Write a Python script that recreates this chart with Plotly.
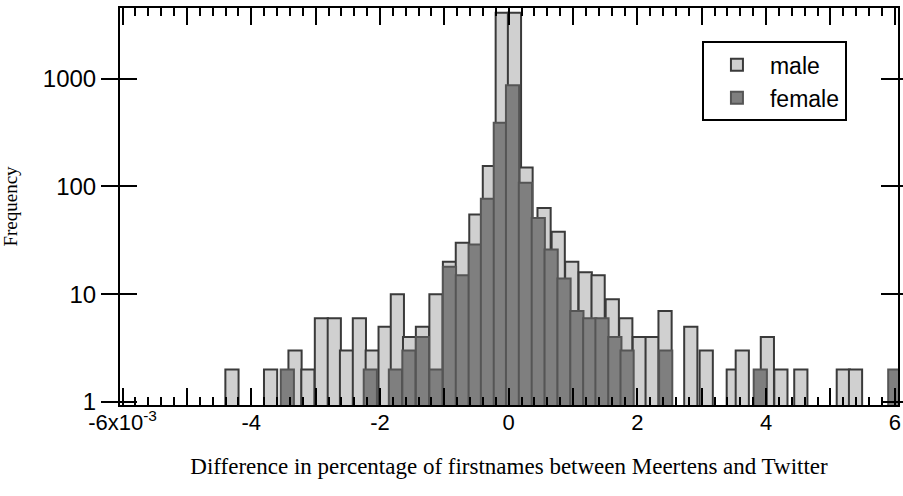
import plotly.graph_objects as go

# Bin centres (in units of 1e-3) and counts
male_x = [-4.30, -3.70, -3.32, -3.12, -2.91, -2.71, -2.52, -2.32, -2.12, -1.92,
          -1.73, -1.54, -1.34, -1.13, -0.92, -0.72, -0.51, -0.30, -0.10, 0.09,
          0.27, 0.55, 0.77, 0.98, 1.19, 1.39, 1.61, 1.82, 2.03, 2.23,
          2.43, 2.83, 3.07, 3.49, 3.63, 4.02, 4.23, 4.54, 5.20, 5.39]
male_y = [2, 2, 3, 2, 6, 6, 3, 6, 3, 5,
          10, 4, 5, 10, 20, 30, 55, 155, 4100, 4100,
          150, 63, 38, 20, 16, 15, 9, 6, 4, 4,
          7, 5, 3, 2, 3, 4, 2, 2, 2, 2]

female_x = [-3.44, -2.15, -1.76, -1.55, -1.34, -1.13, -0.92, -0.72, -0.52, -0.33,
            -0.13, 0.06, 0.26, 0.46, 0.66, 0.86, 1.06, 1.26, 1.45, 1.65,
            1.84, 2.44, 3.91, 6.00]
female_y = [2, 2, 2, 3, 4, 2, 18, 15, 29, 77,
            390, 870, 108, 51, 26, 14, 7, 6, 6, 4,
            3, 3, 2, 2]

major_ticks = [-6, -5, -4, -3, -2, -1, 0, 1, 2, 3, 4, 5, 6]
label_vals = [-6, -4, -2, 0, 2, 4, 6]
label_text = ["-6x10<sup>-3</sup>", "-4", "-2", "0", "2", "4", "6"]
y_vals = [1, 10, 100, 1000]
y_text = ["1", "10", "100", "1000"]

BIN_W = 0.205
X_RANGE = [-6.04, 6.05]

fig = go.Figure()
fig.add_trace(go.Bar(
    x=male_x, y=male_y, width=BIN_W, name="male",
    marker=dict(color="#d0d0d0", line=dict(color="#3a3a3a", width=2)),
    xaxis="x", yaxis="y",
))
fig.add_trace(go.Bar(
    x=female_x, y=female_y, width=BIN_W, name="female",
    marker=dict(color="#7f7f7f", line=dict(color="#555555", width=2)),
    xaxis="x2", yaxis="y",
))

fig.update_layout(
    width=903, height=496,
    margin=dict(l=120, r=5, t=8, b=91),
    barmode="overlay",
    plot_bgcolor="white", paper_bgcolor="white",
    font=dict(family="Liberation Sans, Arial, sans-serif", color="black", size=20),
    showlegend=True,
    legend=dict(
        x=0.748, y=0.916, xanchor="left", yanchor="top",
        bordercolor="black", borderwidth=2, bgcolor="white",
        font=dict(size=23, family="Liberation Sans, Arial, sans-serif"),
        itemwidth=56, tracegroupgap=0,
    ),
    xaxis=dict(
        range=X_RANGE, automargin=False,
        tickvals=major_ticks, showticklabels=False,
        ticks="inside", ticklen=17, tickwidth=2, tickcolor="black",
        showline=True, linecolor="black", linewidth=2, mirror="allticks",
        showgrid=False, zeroline=False,
        minor=dict(dtick=0.2, tick0=0, ticks="inside", ticklen=8, tickwidth=2,
                   tickcolor="black", showgrid=False),
        title=dict(text="Difference in percentage of firstnames between Meertens and Twitter",
                   font=dict(family="Liberation Serif, Times New Roman, serif", size=23),
                   standoff=52),
    ),
    xaxis2=dict(
        range=X_RANGE, automargin=False, overlaying="x", anchor="y", side="bottom",
        tickvals=label_vals, ticktext=label_text,
        ticks="", showline=False, showgrid=False, zeroline=False,
        tickfont=dict(size=22),
        ticklabelstandoff=2,
    ),
    yaxis=dict(
        type="log", range=[-0.028, 3.656], automargin=False,
        tickvals=y_vals, ticktext=y_text,
        ticks="inside", ticklen=17, tickwidth=2, tickcolor="black",
        showline=True, linecolor="black", linewidth=2, mirror="allticks",
        showgrid=False, zeroline=False,
        tickfont=dict(size=24),
        ticklabelstandoff=17,
        title=dict(text="Frequency",
                   font=dict(family="Liberation Serif, Times New Roman, serif", size=19),
                   standoff=52),
    ),
)

fig.write_html("out.html")
